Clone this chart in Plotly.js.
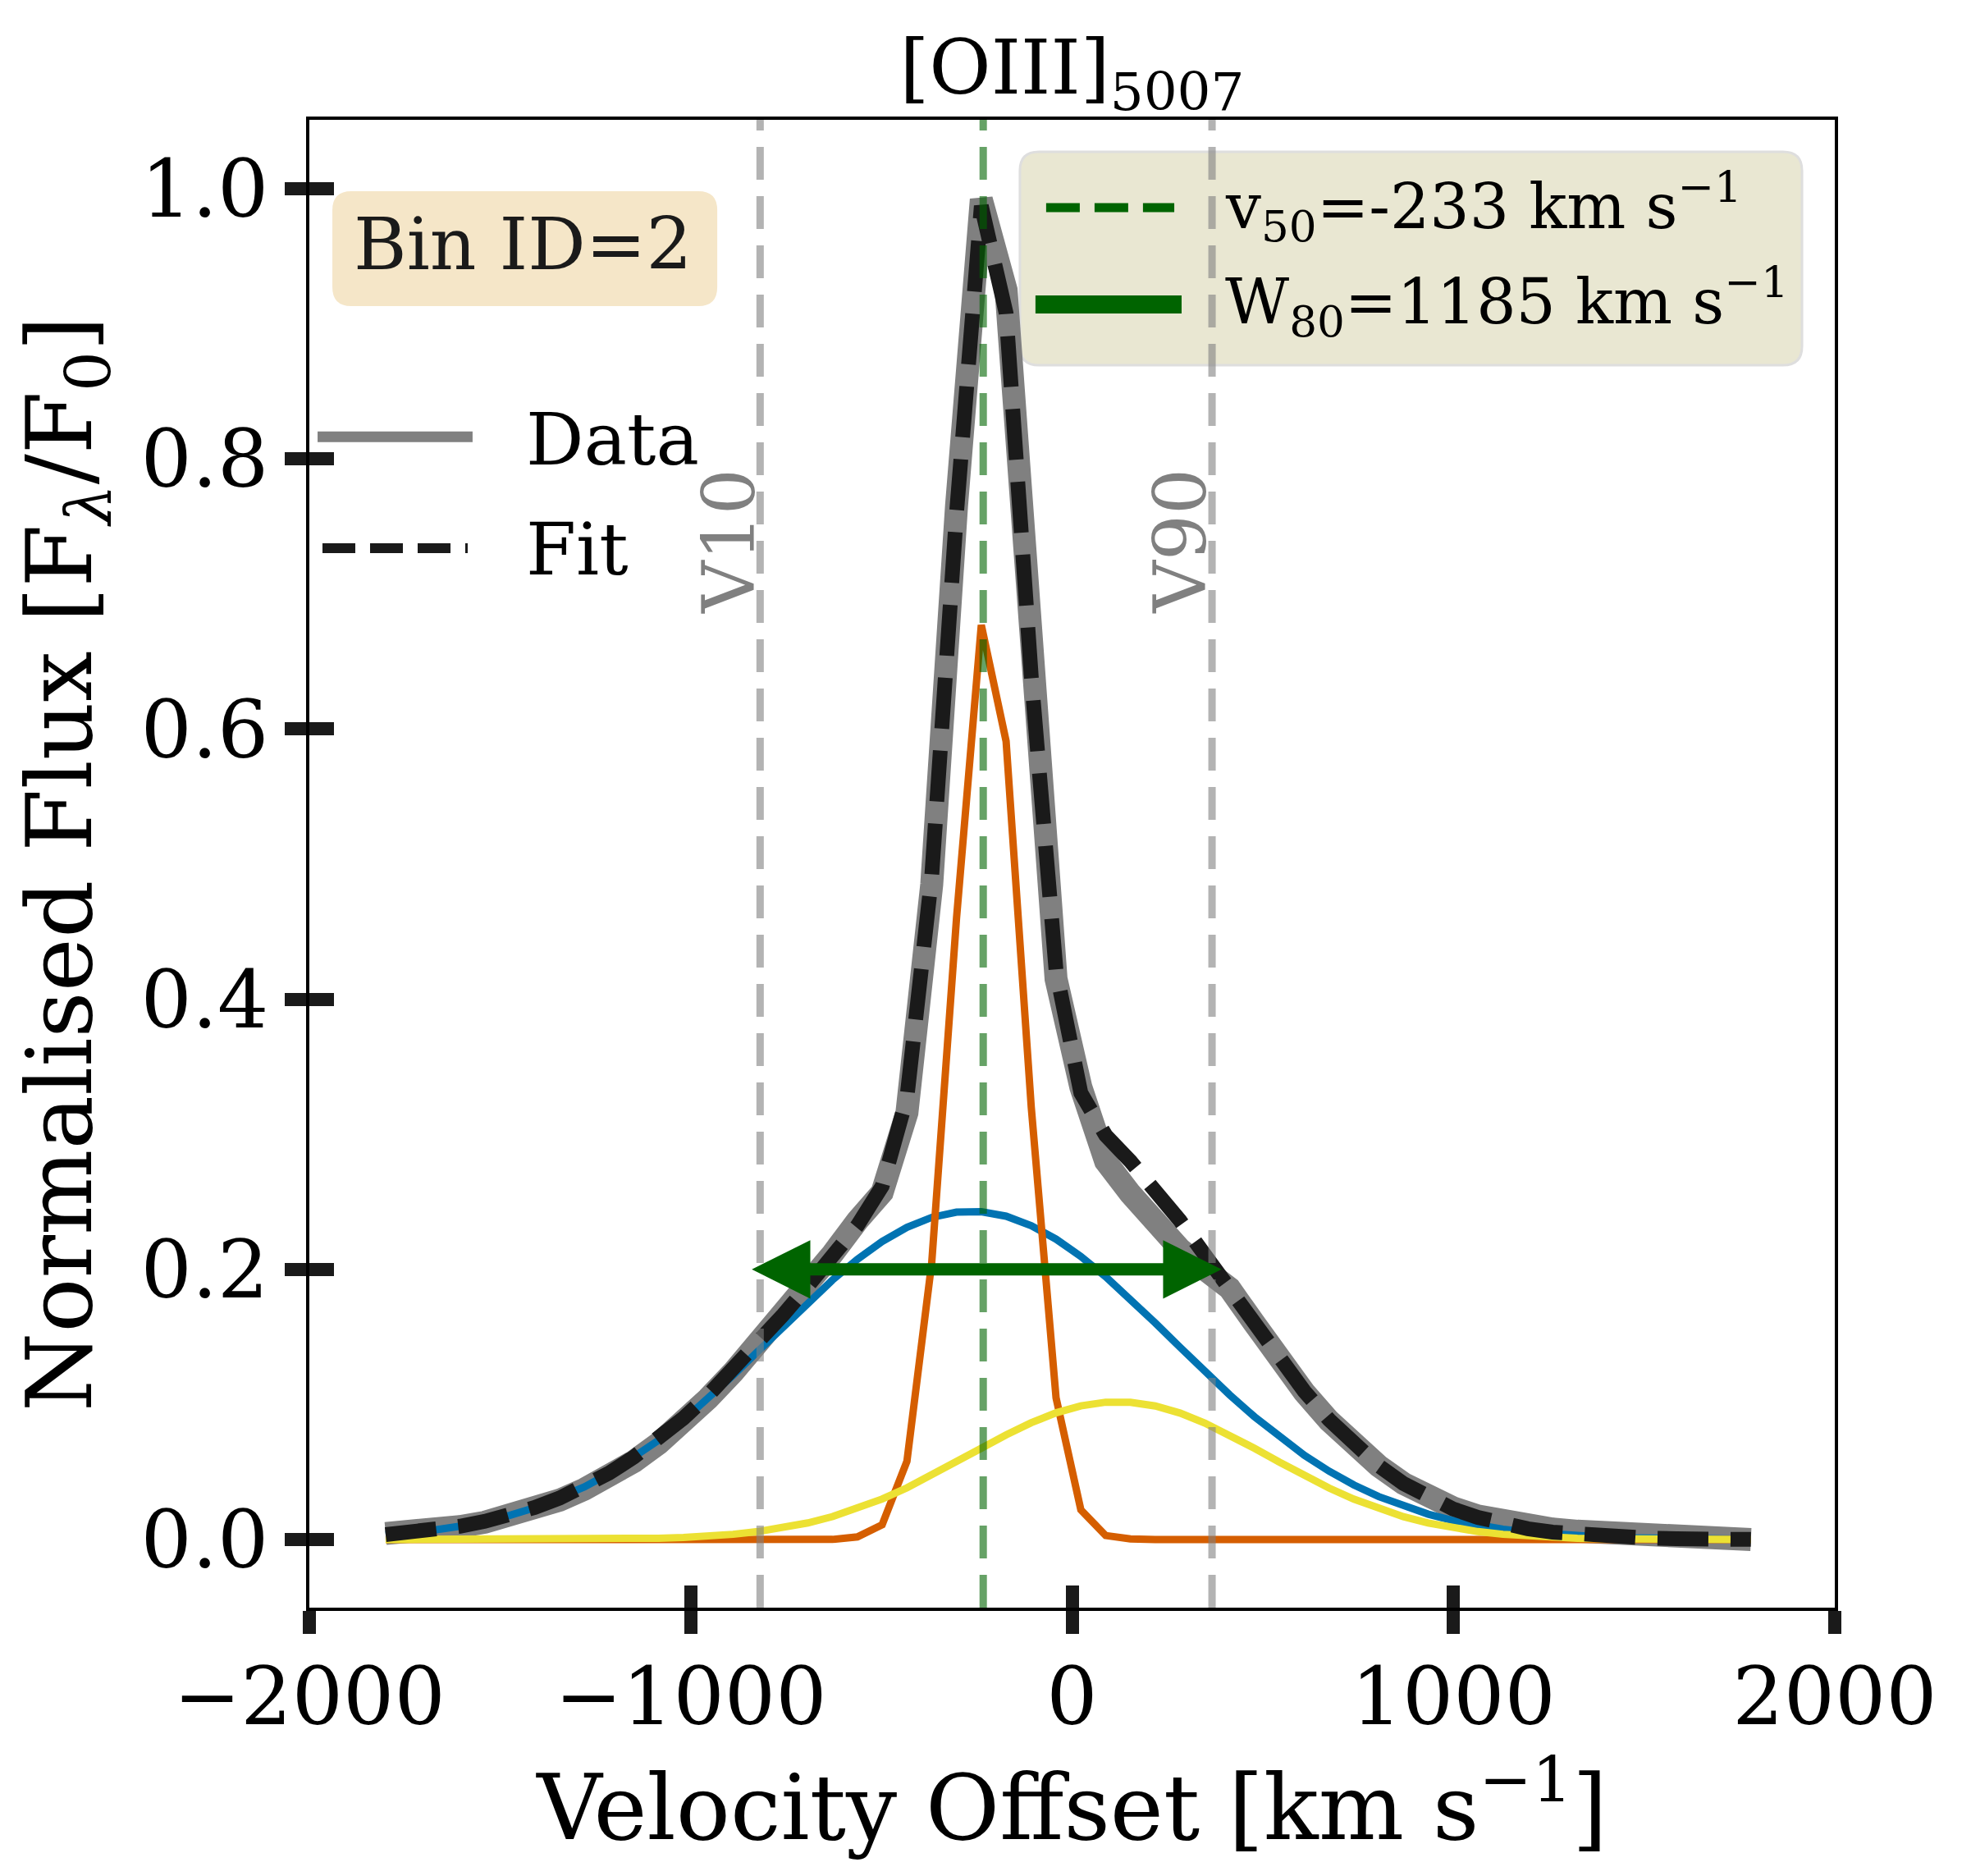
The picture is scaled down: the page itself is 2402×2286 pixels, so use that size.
<!DOCTYPE html>
<html>
<head>
<meta charset="utf-8">
<script src="https://cdn.plot.ly/plotly-3.0.1.min.js"></script>
<style>
  body {margin: 0; background: white;}
  #plotlyDiv {width: 2402px; height: 2286px;}
</style>
</head>
<body>
<div id="plotlyDiv"></div>
<script>
/////Data/////
// velocity grid of the spectrum [km/s]
let velocity = [
  -1800, -1735, -1670, -1605, -1540, -1475, -1409, -1344, -1279, -1214,
  -1149, -1084, -1019, -954, -889, -824, -758, -693, -628, -563,
  -498, -433, -368, -303, -238, -173, -107, -42, 23, 88,
  153, 218, 283, 348, 413, 478, 544, 609, 674, 739,
  804, 869, 934, 999, 1064, 1130, 1195, 1260, 1325, 1390,
  1455, 1520, 1585, 1650, 1715, 1780];
let fluxData = [
  0.0045, 0.0055, 0.0072, 0.0096, 0.0128, 0.0170, 0.0225, 0.0292, 0.0372, 0.0468,
  0.0578, 0.0712, 0.0868, 0.1045, 0.1238, 0.1445, 0.1665, 0.1890, 0.2115, 0.2360,
  0.2570, 0.3160, 0.4850, 0.7650, 0.9920, 0.9250, 0.6500, 0.4150, 0.3350, 0.2800,
  0.2560, 0.2340, 0.2150, 0.2000, 0.1860, 0.1600, 0.1330, 0.1090, 0.0880, 0.0700,
  0.0545, 0.0415, 0.0315, 0.0235, 0.0175, 0.0130, 0.0098, 0.0078, 0.0062, 0.0050,
  0.0040, 0.0030, 0.0022, 0.0015, 0.0008, 0.0000];
let fluxFit = [
  0.0037, 0.0052, 0.0072, 0.0099, 0.0135, 0.0180, 0.0237, 0.0307, 0.0392, 0.0492,
  0.0611, 0.0746, 0.0899, 0.1069, 0.1254, 0.1452, 0.1663, 0.1877, 0.2092, 0.2324,
  0.2616, 0.3274, 0.4911, 0.7599, 0.9873, 0.9079, 0.6389, 0.4212, 0.3306, 0.2993,
  0.2801, 0.2593, 0.2361, 0.2108, 0.1847, 0.1586, 0.1331, 0.1098, 0.0887, 0.0703,
  0.0546, 0.0415, 0.0310, 0.0227, 0.0164, 0.0115, 0.0080, 0.0055, 0.0037, 0.0025,
  0.0016, 0.0010, 0.0006, 0.0005, 0.0002, 0.0001];
// gaussian components
let compBroad = [
  0.0037, 0.0052, 0.0072, 0.0099, 0.0135, 0.0179, 0.0236, 0.0306, 0.0390, 0.0489,
  0.0605, 0.0736, 0.0883, 0.1044, 0.1215, 0.1393, 0.1577, 0.1754, 0.1922, 0.2075,
  0.2206, 0.2311, 0.2385, 0.2424, 0.2427, 0.2394, 0.2324, 0.2224, 0.2096, 0.1946,
  0.1780, 0.1604, 0.1424, 0.1245, 0.1072, 0.0910, 0.0758, 0.0624, 0.0506, 0.0404,
  0.0318, 0.0246, 0.0188, 0.0141, 0.0105, 0.0076, 0.0055, 0.0039, 0.0027, 0.0019,
  0.0013, 0.0008, 0.0005, 0.0004, 0.0002, 0.0001];
let compNarrow = [
  0, 0, 0, 0, 0, 0, 0, 0, 0, 0,
  0, 0, 0, 0, 0, 0, 0, 0, 0.0001, 0.0020,
  0.0110, 0.0580, 0.2050, 0.4600, 0.6770, 0.5910, 0.3200, 0.1050, 0.0220, 0.0030,
  0.0005, 0, 0, 0, 0, 0, 0, 0, 0, 0,
  0, 0, 0, 0, 0, 0, 0, 0, 0, 0,
  0, 0, 0, 0, 0, 0];
let compRed = [
  0, 0, 0, 0, 0, 0, 0.0001, 0.0001, 0.0002, 0.0003,
  0.0006, 0.0010, 0.0016, 0.0025, 0.0039, 0.0059, 0.0086, 0.0123, 0.0170, 0.0229,
  0.0300, 0.0383, 0.0476, 0.0575, 0.0676, 0.0775, 0.0865, 0.0938, 0.0990, 0.1017,
  0.1016, 0.0989, 0.0937, 0.0863, 0.0775, 0.0676, 0.0573, 0.0474, 0.0381, 0.0299,
  0.0228, 0.0169, 0.0122, 0.0086, 0.0059, 0.0039, 0.0025, 0.0016, 0.0010, 0.0006,
  0.0003, 0.0002, 0.0001, 0.0001, 0, 0];
// non-parametric velocities [km/s]
let V10 = -818;
let V50 = -233;
let V90 = 367;
let W80 = 1185;
let ARROW_LEVEL = 0.2;
let LABEL_LEVEL = 0.739;
let BIN_ID = 2;
// ticks
let xTicks = [-2000, -1000, 0, 1000, 2000];
let xTickLabels = ['\u22122000', '\u22121000', '0', '1000', '2000'];
let yTicks = [0.0, 0.2, 0.4, 0.6, 0.8, 1.0];
let yTickLabels = ['0.0', '0.2', '0.4', '0.6', '0.8', '1.0'];

/////Helpers/////
const FONT = 'DejaVu Serif';
const ARROW_OVERHANG = 25;  // arrow heads poke a little past V10/V90, as in the original
function roundedBox(x0, x1, y0, y1, rx, ry) {
  // rounded rectangle in paper coords (no arcs in plotly paths, so Q curves)
  return 'M' + (x0 + rx) + ',' + y0 + ' L' + (x1 - rx) + ',' + y0 +
      ' Q' + x1 + ',' + y0 + ' ' + x1 + ',' + (y0 + ry) +
      ' L' + x1 + ',' + (y1 - ry) + ' Q' + x1 + ',' + y1 + ' ' + (x1 - rx) + ',' + y1 +
      ' L' + (x0 + rx) + ',' + y1 + ' Q' + x0 + ',' + y1 + ' ' + x0 + ',' + (y1 - ry) +
      ' L' + x0 + ',' + (y0 + ry) + ' Q' + x0 + ',' + y0 + ' ' + (x0 + rx) + ',' + y0 + ' Z';
}
function vline(x, color, width) {
  return {
    type: 'line', xref: 'x', yref: 'paper', x0: x, x1: x, y0: 0, y1: 1,
    line: {color: color, width: width, dash: '40px,20px'}, layer: 'above'
  };
}
function legendSample(x0, x1, y, color, width, dash) {
  return {
    type: 'line', xref: 'paper', yref: 'paper', x0: x0, x1: x1, y0: y, y1: y,
    line: {color: color, width: width, dash: dash}, layer: 'above'
  };
}
function paperText(x, y, text, size, color) {
  return {
    xref: 'paper', yref: 'paper', x: x, y: y, text: text, showarrow: false,
    xanchor: 'left', yanchor: 'middle', font: {family: FONT, size: size, color: color}
  };
}

/////Traces/////
let traces = [
  {x: velocity, y: fluxData, mode: 'lines', line: {color: '#808080', width: 28}, name: 'Data'},
  {x: velocity, y: compBroad, mode: 'lines', line: {color: '#0173b2', width: 9}},
  {x: velocity, y: compNarrow, mode: 'lines', line: {color: '#d55e00', width: 9}},
  {x: velocity, y: compRed, mode: 'lines', line: {color: '#ece133', width: 9}},
  {x: velocity, y: fluxFit, mode: 'lines', line: {color: '#1a1a1a', width: 18, dash: '62px,27px'}, name: 'Fit'},
  // empty trace so the overlay axes (inner tick halves) get drawn
  {x: [], y: [], xaxis: 'x2', yaxis: 'y2', hoverinfo: 'skip'}
];

/////Layout/////
const AXIS_COMMON = {
  showgrid: false, zeroline: false, automargin: false,
  tickcolor: '#1a1a1a', tickwidth: 16
};
let layout = {
  width: 2402, height: 2286,
  margin: {l: 377, r: 166, t: 146, b: 327},
  paper_bgcolor: 'white', plot_bgcolor: 'white',
  font: {family: FONT, color: '#000000'},
  showlegend: false,
  title: {
    text: '[OIII]<sub>5007</sub>', font: {family: FONT, size: 92, color: '#000000'},
    x: 0.5, xref: 'paper', xanchor: 'center', y: 1 - 82 / 2286, yref: 'container', yanchor: 'middle'
  },
  xaxis: Object.assign({}, AXIS_COMMON, {
    range: [-2000, 2000], tickvals: xTicks, ticktext: xTickLabels,
    ticks: 'outside', ticklen: 28, ticklabelstandoff: -8,
    showline: true, linecolor: '#000000', linewidth: 4, mirror: true,
    tickfont: {family: FONT, size: 98, color: '#000000'},
    title: {text: 'Velocity Offset [km s<sup>\u22121</sup>]', font: {family: FONT, size: 110}, standoff: 18}
  }),
  yaxis: Object.assign({}, AXIS_COMMON, {
    range: [-0.0504, 1.051], tickvals: yTicks, ticktext: yTickLabels,
    ticks: 'outside', ticklen: 26, ticklabelstandoff: 0,
    showline: true, linecolor: '#000000', linewidth: 4, mirror: true,
    tickfont: {family: FONT, size: 98, color: '#000000'},
    title: {text: 'Normalised Flux [F<sub><i>\u03bb</i></sub>/F<sub>0</sub>]', font: {family: FONT, size: 110}, standoff: 24}
  }),
  // overlay axes: inner half of the in-out ticks
  xaxis2: Object.assign({}, AXIS_COMMON, {
    overlaying: 'x', anchor: 'y', side: 'bottom', range: [-2000, 2000], tickvals: xTicks,
    ticks: 'inside', ticklen: 27, showticklabels: false, showline: false
  }),
  yaxis2: Object.assign({}, AXIS_COMMON, {
    overlaying: 'y', anchor: 'x', side: 'left', range: [-0.0504, 1.051], tickvals: yTicks,
    ticks: 'inside', ticklen: 30, showticklabels: false, showline: false
  }),
  shapes: [
    // legend box (upper right)
    {type: 'path', xref: 'paper', yref: 'paper', path: roundedBox(0.4658, 0.9785, 0.8351, 0.9785, 0.0124, 0.0127),
     fillcolor: '#e9e7d2', line: {color: '#dedede', width: 3}, layer: 'below'},
    // Bin ID box
    {type: 'path', xref: 'paper', yref: 'paper', path: roundedBox(0.0151, 0.2674, 0.8748, 0.9520, 0.0124, 0.0127),
     fillcolor: '#f5e6c8', line: {width: 0}, layer: 'below'},
    vline(V10, 'rgba(128,128,128,0.6)', 9),
    vline(V90, 'rgba(128,128,128,0.6)', 9),
    vline(V50, 'rgba(0,100,0,0.6)', 9),
    // legend samples
    legendSample(0.0054, 0.1070, 0.7870, '#808080', 13, 'solid'),
    legendSample(0.0086, 0.1038, 0.7121, '#1a1a1a', 12, '40px,18px'),
    legendSample(0.4830, 0.5670, 0.9410, '#006400', 11, '41px,18px'),
    legendSample(0.4760, 0.5718, 0.8759, '#006400', 22, 'solid')
  ],
  annotations: [
    // W80 arrow between V10 and V90
    {x: V90 + ARROW_OVERHANG, y: ARROW_LEVEL, ax: V10 - ARROW_OVERHANG, ay: ARROW_LEVEL,
     xref: 'x', yref: 'y', axref: 'x', ayref: 'y',
     text: '', showarrow: true, arrowside: 'end+start', arrowhead: 2, startarrowhead: 2,
     arrowsize: 0.95, startarrowsize: 0.95, arrowwidth: 15, arrowcolor: '#006400', standoff: 0, startstandoff: 0},
    {x: V10, y: LABEL_LEVEL, xref: 'x', yref: 'y', text: 'V10', textangle: -90, showarrow: false,
     xanchor: 'center', yanchor: 'middle', xshift: -38, font: {family: FONT, size: 88, color: '#808080'}},
    {x: V90, y: LABEL_LEVEL, xref: 'x', yref: 'y', text: 'V90', textangle: -90, showarrow: false,
     xanchor: 'center', yanchor: 'middle', xshift: -38, font: {family: FONT, size: 88, color: '#808080'}},
    {xref: 'paper', yref: 'paper', x: 0.1399, y: 0.9162, text: 'Bin ID=' + BIN_ID, showarrow: false,
     xanchor: 'center', yanchor: 'middle', font: {family: FONT, size: 88, color: '#1a1a1a'}},
    paperText(0.1410, 0.7854, 'Data', 88, '#000000'),
    paperText(0.1410, 0.7115, 'Fit', 88, '#000000'),
    paperText(0.5992, 0.9415, 'v<sub>50</sub>=' + V50 + ' km s<sup>\u22121</sup>', 76, '#000000'),
    paperText(0.5992, 0.8776, 'W<sub>80</sub>=' + W80 + ' km s<sup>\u22121</sup>', 76, '#000000')
  ]
};

let spectrum_plot = document.getElementById('plotlyDiv');
Plotly.newPlot(spectrum_plot, traces, layout, {staticPlot: true});
</script>
</body>
</html>
